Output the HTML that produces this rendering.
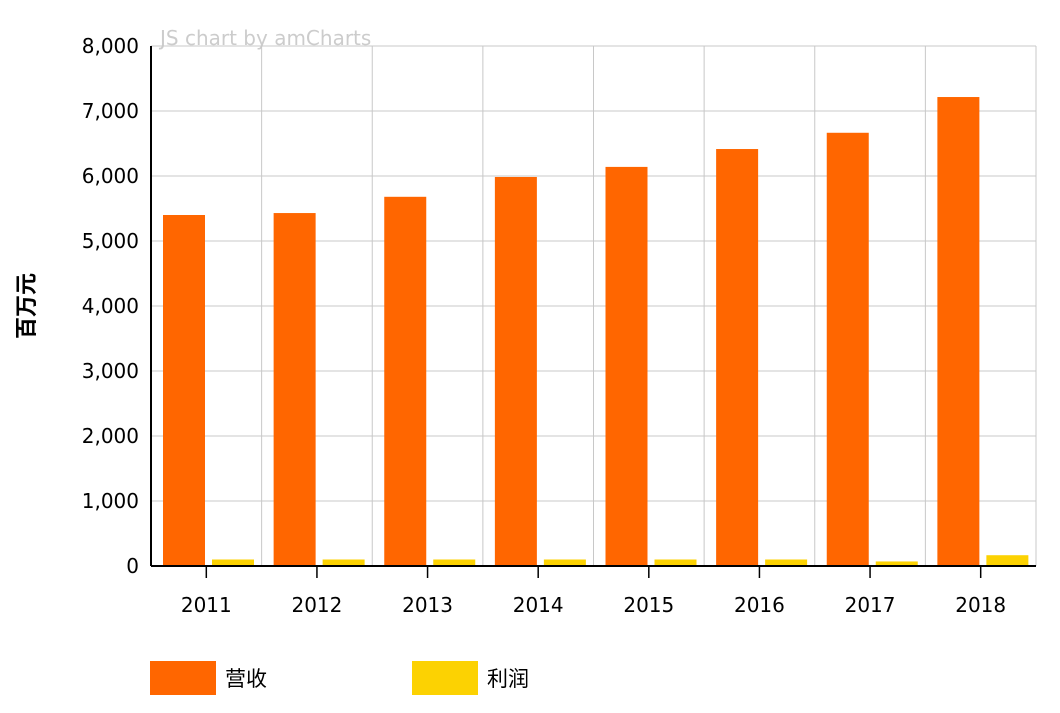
<!DOCTYPE html>
<html><head><meta charset="utf-8"><style>
body{margin:0;background:#fff;}
svg{display:block;font-family:"DejaVu Sans","Noto Sans CJK SC",sans-serif;}
</style></head><body>
<svg id="c" width="1060" height="713">
<text x="160" y="45" font-size="20" fill="#ccc">JS chart by amCharts</text>
<text transform="translate(34,306) rotate(-90)" text-anchor="middle" font-size="22" font-weight="bold" fill="#000" font-family="Noto Sans CJK SC, sans-serif">百万元</text>
<g id="grid"></g><g id="bars"></g><g id="axes"></g>
<g>
<rect x="150" y="661" width="66" height="34" fill="#ff6600"/>
<text x="225" y="686" font-size="21">营收</text>
<rect x="412" y="661" width="66" height="34" fill="#fcd202"/>
<text x="487" y="686" font-size="21">利润</text>
</g>
</svg>
<script>
const categories=["2011","2012","2013","2014","2015","2016","2017","2018"];
const revenue=[5400,5430,5680,5985,6140,6415,6665,7215];
const profit=[100,100,100,100,100,100,70,166];
const yTicks=[0,1000,2000,3000,4000,5000,6000,7000,8000];
const X0=151,X1=1036,Y0=566,Y1=46,YMAX=8000;
const bw=(X1-X0)/categories.length;
const y=v=>Y0-(v/YMAX)*(Y0-Y1);
const ns="http://www.w3.org/2000/svg";
function mk(t,a,p){const e=document.createElementNS(ns,t);for(const k in a)e.setAttribute(k,a[k]);document.getElementById(p).appendChild(e);return e;}
yTicks.forEach(v=>{
 const l=mk('line',{x1:X0,x2:X1,y1:y(v),y2:y(v),stroke:'#c8c8c8'},'grid');
 
 
 const t=mk('text',{x:X0-12,y:y(v)+7,'text-anchor':'end','font-size':'20'},'axes');
 t.textContent=v.toLocaleString('en-US');
 
 
});
for(let i=0;i<=categories.length;i++){
 const l=mk('line',{x1:X0+i*bw,x2:X0+i*bw,y1:Y1,y2:Y0,stroke:'#c8c8c8'},'grid');
 
 
}
categories.forEach((c,i)=>{
 const cx=X0+i*bw;
 const r=mk('rect',{x:cx+12,y:y(revenue[i]),width:42,height:Y0-y(revenue[i]),fill:'#ff6600'},'bars');
 
 
 const p=mk('rect',{x:cx+61,y:y(profit[i]),width:42,height:Y0-y(profit[i]),fill:'#fcd202'},'bars');
 
 
 const tk=mk('line',{x1:cx+bw/2,x2:cx+bw/2,y1:Y0,y2:Y0+12,stroke:'#000','stroke-width':1.5},'axes');
 
 
 const t=mk('text',{x:cx+bw/2,y:Y0+46,'text-anchor':'middle','font-size':'20'},'axes');
 t.textContent=c;
 
 
});
const ax=mk('line',{x1:X0,x2:X1,y1:Y0,y2:Y0,stroke:'#000','stroke-width':2},'axes');


const ay=mk('line',{x1:X0,x2:X0,y1:Y1,y2:Y0,stroke:'#000','stroke-width':2},'axes');


</script>
</body></html>
